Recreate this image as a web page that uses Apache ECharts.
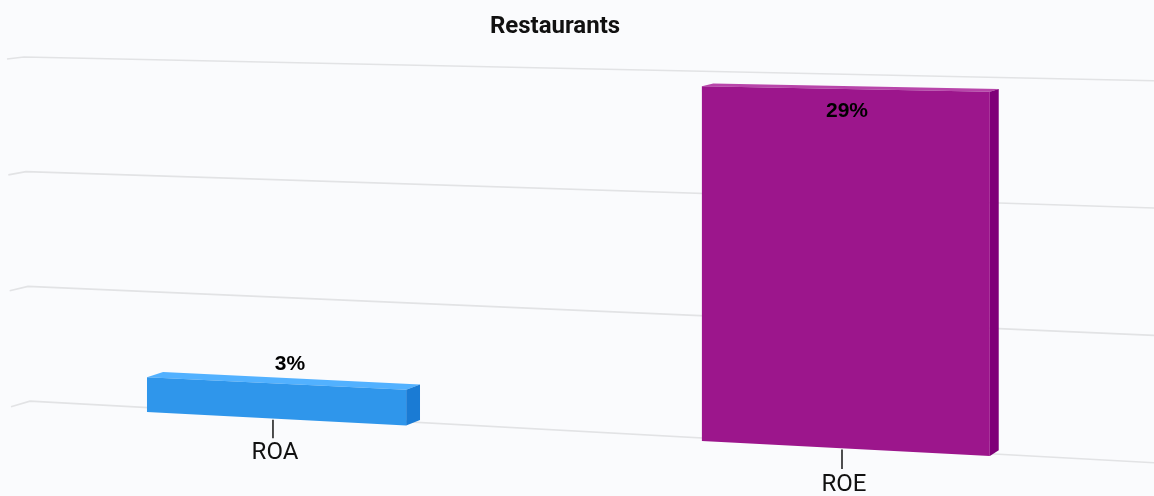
<!DOCTYPE html>
<html>
<head>
<meta charset="utf-8">
<title>Restaurants</title>
<script src="https://cdn.jsdelivr.net/npm/echarts@6/dist/echarts.min.js"></script>
<style>
html, body { margin: 0; padding: 0; background: #fafbfd; }
#chart { width: 1154px; height: 496px; }
</style>
</head>
<body>
<div id="chart"></div>
<script>
var categories = ['ROA', 'ROE'];
var values = [3, 29];
var gridTicks = [0, 10, 20, 30];

var faceColors = [
    { front: '#2f96eb', top: '#52b1ff', side: '#1a7bd4' },
    { front: '#9c168c', top: '#b845aa', side: '#7f0078' }
];

// flat grid (left edge of the front plane) -> skewed "3d" screen coords
var GL = 12, GW = 1140, GB = 405, GT = 61;
function proj(fx, fy) {
    var u = (fx - GL) / GW;
    var d = 1 - 0.1 * u;
    return [(1025.2 * u + 11.8) / d, -131 + (fy + 131) / d];
}
function scaleAt(fx) {
    return 1 / (1 - 0.1 * (fx - GL) / GW);
}
// push a point back in depth, towards the vanishing point
var VP = [2036, -233], DEPTH = 0.0085;
function back(p) {
    return [p[0] + (VP[0] - p[0]) * DEPTH, p[1] + (VP[1] - p[1]) * DEPTH];
}
// back wall gridline y at screen x
function wallY(x, fy) {
    return -157.5 + (fy - 4 + 157.5) * (1 + 0.1105 * (x - 27) / 1127);
}

function renderGrid(params, api) {
    var fy = api.coord([0, api.value(1)])[1];
    var r = (GB - fy) / (GB - GT);
    var x0 = 30 - 6 * r;
    return {
        type: 'polyline',
        shape: { points: [[11 - 4 * r, fy + 1.7 - 3.7 * r], [x0, wallY(x0, fy)], [1154, wallY(1154, fy)]] },
        style: { stroke: '#e2e3e5', lineWidth: 1.6, fill: null }
    };
}

function renderAxis(params, api) {
    var i = api.value(0);
    var base = api.coord([i, 0]);
    var p = proj(base[0], base[1]);
    var k = scaleAt(base[0]);
    return {
        type: 'group',
        children: [{
            type: 'line',
            shape: { x1: p[0] - 2, y1: p[1] + 1, x2: p[0] - 2, y2: p[1] + 1 + 18 * k },
            style: { stroke: '#222', lineWidth: 1.6 }
        }, {
            type: 'text',
            x: p[0],
            y: p[1] + 33.5 * k,
            style: {
                text: categories[i],
                fontFamily: 'Roboto',
                fontSize: 24,
                fill: '#111',
                align: 'center',
                verticalAlign: 'middle'
            }
        }]
    };
}

function renderBar(params, api) {
    var i = api.value(0), v = api.value(1);
    var top = api.coord([i, v]), base = api.coord([i, 0]);
    var bw = api.size([1, 0])[0] * 0.48;
    var x0 = top[0] - bw / 2, x1 = top[0] + bw / 2;
    var fbl = proj(x0, base[1]), fbr = proj(x1, base[1]);
    var ftr = proj(x1, top[1]), ftl = proj(x0, top[1]);
    var mid = proj(top[0], top[1]);
    var c = faceColors[i];
    var inside = v > 25;
    return {
        type: 'group',
        children: [{
            type: 'polygon',
            shape: { points: [ftl, ftr, back(ftr), back(ftl)] },
            style: { fill: c.top }
        }, {
            type: 'polygon',
            shape: { points: [fbr, ftr, back(ftr), back(fbr)] },
            style: { fill: c.side }
        }, {
            type: 'polygon',
            shape: { points: [fbl, fbr, ftr, ftl] },
            style: { fill: c.front }
        }, {
            type: 'text',
            x: mid[0] + (inside ? 3 : 15),
            y: mid[1] + (inside ? 22 : -19),
            style: {
                text: values[i] + '%',
                fontFamily: 'Liberation Sans',
                fontWeight: 'bold',
                fontSize: 21,
                fill: '#000',
                align: 'center',
                verticalAlign: 'middle'
            }
        }]
    };
}

var myChart = echarts.init(document.getElementById('chart'));

option = {
    backgroundColor: '#fafbfd',
    animation: false,
    title: {
        text: 'Restaurants',
        left: 550,
        top: 10,
        textAlign: 'center',
        textStyle: {
            fontFamily: 'Roboto',
            fontWeight: 'bold',
            fontSize: 24,
            color: '#111'
        }
    },
    grid: {
        left: GL,
        width: GW,
        top: GT,
        bottom: 496 - GB
    },
    xAxis: {
        type: 'category',
        data: categories,
        show: false
    },
    yAxis: {
        type: 'value',
        min: 0,
        max: 30,
        interval: 10,
        show: false
    },
    series: [{
        type: 'custom',
        z: 1,
        clip: false,
        renderItem: renderGrid,
        data: gridTicks.map(function (t) { return [0, t]; })
    }, {
        type: 'custom',
        z: 2,
        clip: false,
        renderItem: renderAxis,
        data: categories.map(function (c, i) { return [i, 0]; })
    }, {
        type: 'custom',
        z: 3,
        clip: false,
        renderItem: renderBar,
        data: values.map(function (v, i) { return [i, v]; })
    }]
};

myChart.setOption(option);
</script>
</body>
</html>
